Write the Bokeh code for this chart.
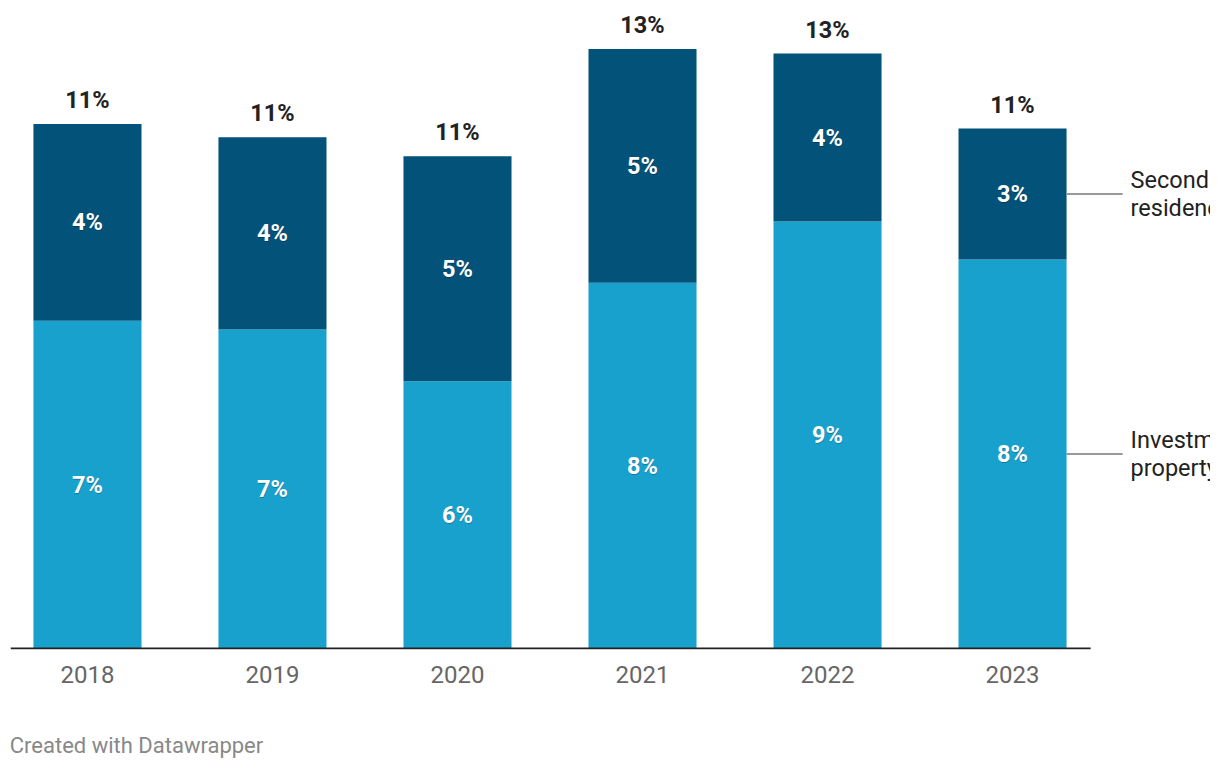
from bokeh.plotting import figure
from bokeh.models import ColumnDataSource, Range1d, FixedTicker, LinearAxis
from bokeh.core.properties import value
from bokeh.embed import file_html
from bokeh.resources import INLINE

years = ["2018", "2019", "2020", "2021", "2022", "2023"]
investment = [7.08, 6.89, 5.77, 7.90, 9.22, 8.40]
second_res = [4.25, 4.15, 4.86, 5.05, 3.63, 2.83]
credit_text = "Created with Datawrapper"

DARK = "#02527a"
LIGHT = "#18a1cd"
FONT = "Roboto"

xs = list(range(len(years)))
totals = [a + b for a, b in zip(investment, second_res)]
src = ColumnDataSource(dict(
    x=xs,
    inv=investment,
    sec=second_res,
    top=totals,
    inv_mid=[a / 2 for a in investment],
    sec_mid=[a + b / 2 for a, b in zip(investment, second_res)],
    inv_lab=[f"{round(v)}%" for v in investment],
    sec_lab=[f"{round(v)}%" for v in second_res],
    tot_lab=[f"{round(v)}%" for v in totals],
))

PX = 46.3
H = 770
BOTTOM = 121
FRAME_H = H - BOTTOM
p = figure(width=1210, height=H, output_backend="svg", toolbar_location=None,
           x_range=Range1d(-0.416, 6.07), y_range=Range1d(-1 / PX, (FRAME_H - 1) / PX),
           min_border_left=10, min_border_right=0, min_border_top=0, min_border_bottom=BOTTOM)
p.outline_line_color = None
p.grid.visible = False
p.yaxis.visible = False
p.background_fill_color = "white"
p.border_fill_color = "white"

W = 0.584
p.vbar(x="x", bottom=0, top="inv", width=W, color=LIGHT, line_color=None, source=src)
p.vbar(x="x", bottom="inv", top="top", width=W, color=DARK, line_color=None, source=src)

# baseline
p.segment(x0=[-0.416], y0=[0], x1=[5.422], y1=[0], line_color="#222222", line_width=2)

FS = "23.5px"
# inner labels
for col_y, col_t in (("inv_mid", "inv_lab"), ("sec_mid", "sec_lab")):
    p.text(x="x", y=col_y, text=col_t, source=src, text_align="center", text_baseline="middle",
           text_font=value(FONT), text_font_size=FS, text_font_style="bold",
           text_color="black", text_alpha=0.25, x_offset=0.5, y_offset=1)
    p.text(x="x", y=col_y, text=col_t, source=src, text_align="center", text_baseline="middle",
           text_font=value(FONT), text_font_size=FS, text_font_style="bold", text_color="white")

# totals
p.text(x="x", y="top", text="tot_lab", source=src, text_align="center", text_baseline="middle",
       y_offset=-24, text_font=value(FONT), text_font_size=FS, text_font_style="bold",
       text_color="#222222")

# series labels attached to last bar
last = len(years) - 1
lab_y = [investment[last] / 2, investment[last] + second_res[last] / 2]
lab_t = ["Investment\nproperty", "Second\nresidence"]
x0 = last + W / 2
p.segment(x0=[x0, x0], y0=lab_y, x1=[x0 + 0.303, x0 + 0.303], y1=lab_y,
          line_color="#999999", line_width=2)
p.text(x=[x0 + 0.346] * 2, y=lab_y, text=lab_t, text_align="left", text_baseline="middle",
       text_font=value(FONT), text_font_size=FS, text_color="#222222", text_line_height=1.0)

ax = p.xaxis[0]
ax.ticker = FixedTicker(ticks=xs)
ax.major_label_overrides = {i: y for i, y in enumerate(years)}
ax.axis_line_color = None
ax.major_tick_line_color = None
ax.minor_tick_line_color = None
ax.major_tick_out = 0
ax.major_label_standoff = 16
ax.major_label_text_font = FONT
ax.major_label_text_font_size = "24px"
ax.major_label_text_color = "#666666"

# credit line, as a second bottom axis carrying a single label
credit_pos = 0.265
cax = LinearAxis(ticker=FixedTicker(ticks=[credit_pos]),
                 major_label_overrides={credit_pos: credit_text},
                 axis_line_color=None, major_tick_line_color=None, minor_tick_line_color=None,
                 major_tick_out=0, major_label_standoff=47,
                 major_label_text_font=FONT, major_label_text_font_size="22px",
                 major_label_text_color="#888888")
p.add_layout(cax, "below")

open("out.html", "w").write(file_html(p, INLINE))
